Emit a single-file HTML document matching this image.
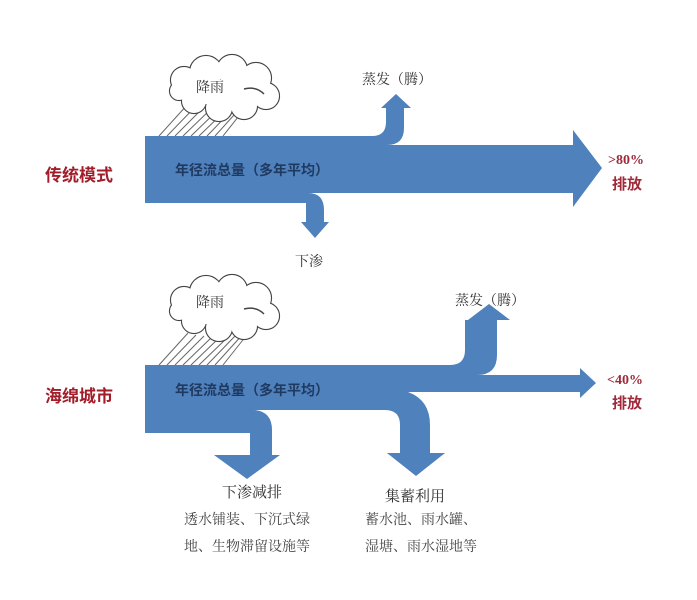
<!DOCTYPE html>
<html><head><meta charset="utf-8"><style>
html,body{margin:0;padding:0;background:#fff;}
svg{display:block;}
text{font-family:"Liberation Serif","Noto Serif CJK SC",serif;}
.b{font-family:"Liberation Sans","Noto Sans CJK SC",sans-serif;font-weight:bold;}
</style></head><body>
<svg width="697" height="600" viewBox="0 0 697 600" xmlns="http://www.w3.org/2000/svg">
<defs>
<g id="cloud">
  <g fill="none" stroke="#444" stroke-width="2.2">
    <circle cx="0" cy="0" r="13"/><circle cx="22" cy="-8" r="16"/><circle cx="48" cy="-10" r="15"/>
    <circle cx="72" cy="-2" r="15"/><circle cx="82" cy="16" r="13"/><circle cx="60" cy="26" r="13"/>
    <circle cx="35" cy="28" r="13"/><circle cx="10" cy="21" r="12"/><circle cx="-5" cy="11" r="9"/>
  </g>
  <g fill="#fff">
    <circle cx="0" cy="0" r="13"/><circle cx="22" cy="-8" r="16"/><circle cx="48" cy="-10" r="15"/>
    <circle cx="72" cy="-2" r="15"/><circle cx="82" cy="16" r="13"/><circle cx="60" cy="26" r="13"/>
    <circle cx="35" cy="28" r="13"/><circle cx="10" cy="21" r="12"/><circle cx="-5" cy="11" r="9"/>
    <rect x="0" y="0" width="75" height="24"/>
  </g>
  <path d="M60 9 Q72 6 80 14" fill="none" stroke="#444" stroke-width="1.5"/>
</g>
<g id="rain" stroke="#666" stroke-width="1">
  <line x1="188" y1="104" x2="159" y2="136"/><line x1="196" y1="106" x2="167" y2="136"/>
  <line x1="204" y1="107" x2="175" y2="136"/><line x1="212" y1="108" x2="183" y2="136"/>
  <line x1="220" y1="108" x2="191" y2="136"/><line x1="228" y1="108" x2="199" y2="136"/>
  <line x1="236" y1="106" x2="207" y2="136"/><line x1="244" y1="104" x2="215" y2="136"/>
  <line x1="250" y1="102" x2="223" y2="136"/>
</g>
</defs>

<!-- TOP -->
<use href="#rain"/>
<use href="#cloud" x="184" y="80"/>
<text x="196" y="92" font-size="14" fill="#333">降雨</text>
<path fill="#4f81bd" d="M145 136 L372 136 Q386 136 386 122 L386 108 L381 108 L396 94 L411 108 L404 108 L404 128 Q404 145 387 145 L573 145 L573 130 L602 168 L573 207 L573 193 L308 193 Q324 193 324 210 L324 222 L329 222 L315 238 L301 222 L306 222 L306 203 L145 203 Z"/>
<text x="175" y="175" class="b" font-size="14" fill="#1f3a60">年径流总量（多年平均）</text>
<text x="362" y="84" font-size="14" fill="#333">蒸发（腾）</text>
<text x="295" y="266" font-size="14" fill="#333">下渗</text>
<text x="608" y="164" font-size="14" font-weight="bold" fill="#a0293a">&gt;80%</text>
<text x="612" y="189" class="b" font-size="15" fill="#a0293a">排放</text>
<text x="45" y="181" class="b" font-size="17" fill="#a31c2a">传统模式</text>

<!-- BOTTOM -->
<g transform="translate(0,229)"><use href="#rain"/></g>
<use href="#cloud" x="184" y="300"/>
<text x="196" y="307" font-size="14" fill="#333">降雨</text>
<path fill="#4f81bd" d="M145 365 L450 365 Q465 365 465 350 L465 320 L468 320 L489 304 L510 320 L497 320 L497 355 Q497 375 477 375 L580 375 L580 368 L596 383 L580 398 L580 392 L408 392 Q430 400 430 425 L430 453 L445 453 L416 476 L387 453 L400 453 L400 425 Q400 410 385 410 L255 410 Q272 412 272 430 L272 455 L280 455 L247 479 L214 455 L250 455 L250 433 L145 433 Z"/>
<text x="175" y="395" class="b" font-size="14" fill="#1f3a60">年径流总量（多年平均）</text>
<text x="455" y="305" font-size="14" fill="#333">蒸发（腾）</text>
<text x="607" y="384" font-size="14" font-weight="bold" fill="#a0293a">&lt;40%</text>
<text x="612" y="408" class="b" font-size="15" fill="#a0293a">排放</text>
<text x="45" y="402" class="b" font-size="17" fill="#a31c2a">海绵城市</text>

<text x="222" y="497" font-size="15" fill="#333">下渗减排</text>
<text x="184" y="524" font-size="14" fill="#444">透水铺装、下沉式绿</text>
<text x="184" y="551" font-size="14" fill="#444">地、生物滞留设施等</text>
<text x="385" y="501" font-size="15" fill="#333">集蓄利用</text>
<text x="365" y="524" font-size="14" fill="#444">蓄水池、雨水罐、</text>
<text x="365" y="551" font-size="14" fill="#444">湿塘、雨水湿地等</text>
</svg>
</body></html>
